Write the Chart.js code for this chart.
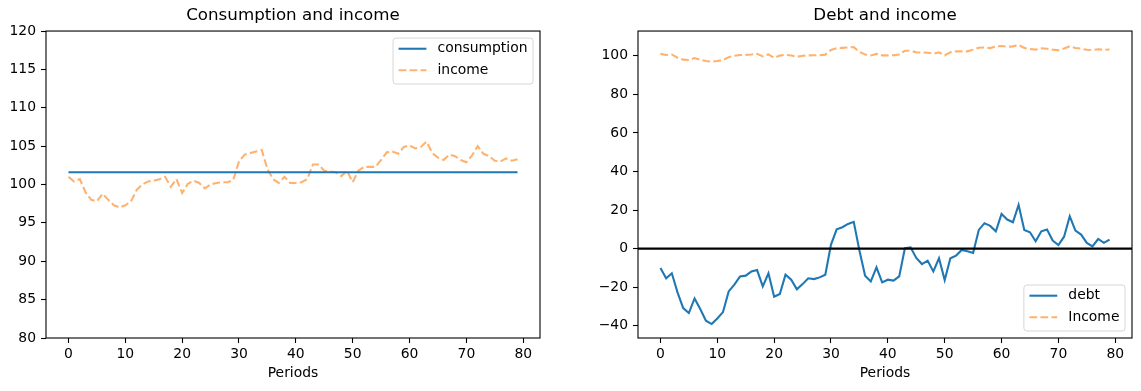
<!DOCTYPE html>
<html><head><meta charset="utf-8">
<script src="https://cdn.jsdelivr.net/npm/chart.js@4.4.0/dist/chart.umd.min.js"></script>
<style>
html,body{margin:0;padding:0;background:#fff;}
#wrap{position:relative;width:1141px;height:391px;overflow:hidden;background:#fff;}
#c1{position:absolute;left:0;top:0;}
#c2{position:absolute;left:575px;top:0;}
</style></head><body>
<div id="wrap"><canvas id="c1" width="575" height="391"></canvas><canvas id="c2" width="566" height="391"></canvas></div>
<script>
// ---- data ----
const periods = [0,1,2,3,4,5,6,7,8,9,10,11,12,13,14,15,16,17,18,19,20,21,22,23,24,25,26,27,28,29,30,31,32,33,34,35,36,37,38,39,40,41,42,43,44,45,46,47,48,49,50,51,52,53,54,55,56,57,58,59,60,61,62,63,64,65,66,67,68,69,70,71,72,73,74,75,76,77,78,79];
const consumption = [101.6,101.6,101.6,101.6,101.6,101.6,101.6,101.6,101.6,101.6,101.6,101.6,101.6,101.6,101.6,101.6,101.6,101.6,101.6,101.6,101.6,101.6,101.6,101.6,101.6,101.6,101.6,101.6,101.6,101.6,101.6,101.6,101.6,101.6,101.6,101.6,101.6,101.6,101.6,101.6,101.6,101.6,101.6,101.6,101.6,101.6,101.6,101.6,101.6,101.6,101.6,101.6,101.6,101.6,101.6,101.6,101.6,101.6,101.6,101.6,101.6,101.6,101.6,101.6,101.6,101.6,101.6,101.6,101.6,101.6,101.6,101.6,101.6,101.6,101.6,101.6,101.6,101.6,101.6,101.6];
const income = [101.0,100.4,100.7,99.0,98.0,97.8,98.8,98.0,97.3,97.0,
  97.3,97.8,99.3,100.0,100.4,100.5,100.7,101.0,99.7,100.7,
  98.9,100.1,100.5,100.2,99.5,100.0,100.2,100.3,100.3,100.6,
  103.0,103.9,104.1,104.3,104.5,102.0,100.7,100.2,101.0,100.2,
  100.2,100.3,100.7,102.6,102.6,101.8,101.7,101.6,101.1,101.8,
  100.3,101.8,102.3,102.3,102.3,103.2,104.2,104.3,104.0,104.9,
  105.1,104.7,104.9,105.6,104.1,103.5,103.2,103.9,103.7,103.2,
  102.9,103.8,105.0,104.0,103.7,103.1,103.0,103.4,103.1,103.3];
const debt = [-10.0,-15.4,-12.8,-22.7,-30.8,-33.4,-25.8,-31.3,-37.4,-39.1,
  -36.2,-32.9,-22.2,-18.7,-14.4,-14.0,-11.8,-11.1,-19.6,-12.8,
  -24.9,-23.5,-13.5,-16.1,-21.1,-18.4,-15.4,-15.8,-14.9,-13.5,
  2.1,10.0,11.1,12.8,13.9,-1.0,-14.0,-17.0,-9.7,-17.5,
  -16.1,-16.6,-14.4,0.2,0.7,-4.8,-8.0,-6.2,-11.8,-5.0,
  -16.3,-5.0,-3.6,-0.7,-1.4,-2.2,9.7,13.2,11.8,9.0,
  18.0,15.1,13.7,22.7,9.7,8.5,3.8,9.0,9.9,4.2,
  1.9,6.2,16.8,9.4,7.3,3.0,1.2,5.0,3.0,4.7];
const xTicks = [0,10,20,30,40,50,60,70,80];
const xTickLabels = ['0','10','20','30','40','50','60','70','80'];
const leftYTicks = [80,85,90,95,100,105,110,115,120];
const leftYTickLabels = ['80','85','90','95','100','105','110','115','120'];
const rightYTicks = [-40,-20,0,20,40,60,80,100];
const rightYTickLabels = ['\u221240','\u221220','0','20','40','60','80','100'];
const zeroLineValue = 0;

// ---- styling ----
Chart.defaults.font.family = "'DejaVu Sans', sans-serif";
Chart.defaults.font.size = 13.9;
Chart.defaults.color = '#000';
const BLUE = '#1f77b4';
const ORANGE = 'rgba(255,127,14,0.6)';
const FS = 13.9;

function toXY(xs, ys){ return xs.map((x,i)=>({x:x, y:ys[i]})); }

function xScale(){
  return {
    type:'linear', min:-3.95, max:82.95, bounds:'data',
    afterBuildTicks: s => { s.ticks = xTicks.map(v=>({value:v})); },
    afterFit: s => { s.height = 53; },
    ticks:{ callback:(v)=>{ const i = xTicks.indexOf(v); return i>=0 ? xTickLabels[i] : ''; },
      padding:3, maxRotation:0, autoSkip:false, color:'#000', font:{size:FS} },
    grid:{ display:true, drawOnChartArea:false, drawTicks:true, tickLength:5, tickColor:'#000', tickWidth:1.1 },
    border:{ display:false },
    title:{ display:true, text:'Periods', color:'#000', font:{size:FS}, padding:{top:0,bottom:9.5} }
  };
}
function yScale(min, max, ticks, labels, width){
  return {
    type:'linear', min:min, max:max, bounds:'data',
    afterBuildTicks: s => { s.ticks = ticks.map(v=>({value:v})); },
    afterFit: s => { s.width = width; },
    ticks:{ callback:(v)=>{ const i = ticks.indexOf(v); return i>=0 ? labels[i] : ''; },
      padding:5, autoSkip:false, color:'#000', font:{size:FS} },
    grid:{ display:true, drawOnChartArea:false, drawTicks:true, tickLength:5, tickColor:'#000', tickWidth:1.1 },
    border:{ display:false }
  };
}

function roundRectPath(ctx, x, y, w, h, r){
  ctx.beginPath();
  ctx.moveTo(x+r, y);
  ctx.lineTo(x+w-r, y); ctx.quadraticCurveTo(x+w, y, x+w, y+r);
  ctx.lineTo(x+w, y+h-r); ctx.quadraticCurveTo(x+w, y+h, x+w-r, y+h);
  ctx.lineTo(x+r, y+h); ctx.quadraticCurveTo(x, y+h, x, y+h-r);
  ctx.lineTo(x, y+r); ctx.quadraticCurveTo(x, y, x+r, y);
  ctx.closePath();
}

const framePlugin = {
  id:'frame',
  afterDatasetsDraw(chart, args, opts){
    if (opts.zeroLine) {
      const a = chart.chartArea, ctx = chart.ctx;
      const y = chart.scales.y.getPixelForValue(zeroLineValue);
      ctx.save();
      ctx.strokeStyle = '#000'; ctx.lineWidth = 2.08;
      ctx.beginPath(); ctx.moveTo(a.left, y); ctx.lineTo(a.right, y); ctx.stroke();
      ctx.restore();
    }
  },
  afterDraw(chart, args, opts){
    const a = chart.chartArea, ctx = chart.ctx;
    ctx.save();
    ctx.strokeStyle = '#000'; ctx.lineWidth = 1.1;
    ctx.strokeRect(a.left, a.top, a.right-a.left, a.bottom-a.top);
    // legend
    ctx.font = FS + "px 'DejaVu Sans'";
    const ds = chart.data.datasets;
    const tw = Math.max(...ds.map(d=>ctx.measureText(d.label).width));
    const bw = 5.56 + 27.8 + 11.1 + tw + 5.56, bh = 46;
    const x0 = a.right - 7 - bw;
    const y0 = opts.loc === 'upper right' ? a.top + 7 : a.bottom - 7 - bh;
    roundRectPath(ctx, x0, y0, bw, bh, 3);
    ctx.fillStyle = 'rgba(255,255,255,0.8)'; ctx.fill();
    ctx.strokeStyle = '#d6d6d6'; ctx.lineWidth = 1; ctx.stroke();
    ds.forEach((d,i)=>{
      const cy = y0 + 10.7 + i*21.5;
      ctx.save();
      ctx.strokeStyle = d.borderColor; ctx.lineWidth = d.borderWidth;
      ctx.setLineDash(d.borderDash || []);
      ctx.beginPath(); ctx.moveTo(x0+5.56, cy); ctx.lineTo(x0+5.56+27.8, cy); ctx.stroke();
      ctx.restore();
      ctx.fillStyle = '#000'; ctx.textBaseline = 'middle'; ctx.textAlign = 'left';
      ctx.fillText(d.label, x0+5.56+27.8+11.1, cy);
    });
    ctx.restore();
  }
};

function titleOpts(text){
  return { display:true, text:text, fullSize:false, color:'#000',
    font:{size:16.7, weight:'normal'}, padding:{top:6, bottom:5} };
}

new Chart(document.getElementById('c1'), {
  type:'line',
  data:{ datasets:[
    { label:'consumption', data:toXY(periods, consumption), borderColor:BLUE, borderWidth:2.08, pointRadius:0, tension:0, fill:false },
    { label:'income', data:toXY(periods, income), borderColor:ORANGE, borderWidth:2.08, borderDash:[7.7,3.3], pointRadius:0, tension:0, fill:false }
  ]},
  options:{
    responsive:false, animation:false, events:[],
    layout:{ padding:{left:0, right:35, top:0, bottom:0} },
    scales:{ x:xScale(), y:yScale(80, 120, leftYTicks, leftYTickLabels, 46) },
    plugins:{ legend:{display:false}, tooltip:{enabled:false}, title:titleOpts('Consumption and income'),
      frame:{ loc:'upper right', zeroLine:false } }
  },
  plugins:[framePlugin]
});

new Chart(document.getElementById('c2'), {
  type:'line',
  data:{ datasets:[
    { label:'debt', data:toXY(periods, debt), borderColor:BLUE, borderWidth:2.08, pointRadius:0, tension:0, fill:false },
    { label:'Income', data:toXY(periods, income), borderColor:ORANGE, borderWidth:2.08, borderDash:[7.7,3.3], pointRadius:0, tension:0, fill:false }
  ]},
  options:{
    responsive:false, animation:false, events:[],
    layout:{ padding:{left:0, right:9, top:0, bottom:0} },
    scales:{ x:xScale(), y:yScale(-46.34, 112.84, rightYTicks, rightYTickLabels, 63) },
    plugins:{ legend:{display:false}, tooltip:{enabled:false}, title:titleOpts('Debt and income'),
      frame:{ loc:'lower right', zeroLine:true } }
  },
  plugins:[framePlugin]
});
</script>
</body></html>
